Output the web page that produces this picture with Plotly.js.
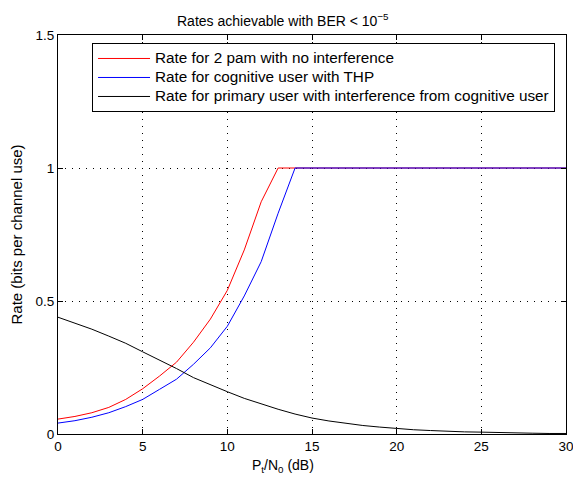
<!DOCTYPE html>
<html>
<head>
<meta charset="utf-8">
<script src="https://cdn.plot.ly/plotly-3.0.1.min.js"></script>
<style>html,body{margin:0;padding:0;background:#fff;}#chart{width:573px;height:483px;}</style>
</head>
<body>
<div id="chart"></div>
<script>
var snrDb = [0,1,2,3,4,5,6,7,8,9,10,11,12,13,14,15,16,17,18,19,20,21,22,23,24,25,26,27,28,29,30];
var rate2pam = [0.056,0.066,0.080,0.100,0.130,0.170,0.218,0.270,0.345,0.432,0.540,0.692,0.873,1,1,1,1,1,1,1,1,1,1,1,1,1,1,1,1,1,1];
var rateCognitive = [0.041,0.050,0.063,0.080,0.103,0.130,0.168,0.206,0.262,0.324,0.405,0.519,0.648,0.830,1,1,1,1,1,1,1,1,1,1,1,1,1,1,1,1,1];
var ratePrimary = [0.439,0.416,0.394,0.368,0.341,0.309,0.278,0.246,0.212,0.184,0.159,0.134,0.113,0.093,0.075,0.060,0.049,0.040,0.032,0.026,0.020,0.016,0.013,0.010,0.008,0.007,0.005,0.004,0.003,0.002,0.002];
var seriesNames = ["Rate for 2 pam with no interference","Rate for cognitive user with THP","Rate for primary user with interference from cognitive user"];
var xTicks = [0,5,10,15,20,25,30];
var yTicks = [0,0.5,1,1.5];
var yTickText = ["0","0.5","1","1.5"];

var font = "Liberation Sans, Arial, Helvetica, sans-serif";
function legendLabel(s) { return '<span style="font-size:15.3px">' + s + '</span>'; }
var traces = [
  {x: snrDb, y: rate2pam, name: legendLabel(seriesNames[0]), mode: "lines", line: {color: "#ff0000", width: 1}},
  {x: snrDb, y: rateCognitive, name: legendLabel(seriesNames[1]), mode: "lines", line: {color: "#0000ff", width: 1}},
  {x: snrDb, y: ratePrimary, name: legendLabel(seriesNames[2]), mode: "lines", line: {color: "#000000", width: 1}}
];
var axisCommon = {
  showline: true, linecolor: "#000", linewidth: 1, mirror: "ticks",
  ticks: "inside", ticklen: 5, tickcolor: "#000", tickwidth: 1,
  showgrid: true, gridcolor: "#000", gridwidth: 1, griddash: "1px,6px",
  zeroline: false, ticklabeloverflow: "allow",
  tickfont: {family: font, size: 13.5, color: "#000"}
};
var layout = {
  width: 573, height: 483,
  margin: {l: 58, r: 7, t: 35, b: 49},
  paper_bgcolor: "#fff", plot_bgcolor: "#fff",
  font: {family: font, size: 14, color: "#000"},
  showlegend: true,
  legend: {x: 0.067, y: 0.98, xanchor: "left", yanchor: "top", bordercolor: "#000", borderwidth: 1,
           bgcolor: "#fff", itemwidth: 52, font: {family: font, size: 12, color: "#000"}, tracegroupgap: 0},
  xaxis: Object.assign({}, axisCommon, {range: [0, 30], tickvals: xTicks, ticktext: xTicks.map(String)}),
  yaxis: Object.assign({}, axisCommon, {range: [0, 1.5], tickvals: yTicks, ticktext: yTickText}),
  annotations: [
    {text: "Rates achievable with BER &lt; 10<sup>−5</sup>", xref: "paper", yref: "paper",
     x: (283 - 58) / 508, y: 1, yshift: 15, xanchor: "center", yanchor: "middle", showarrow: false,
     font: {family: font, size: 14, color: "#000"}},
    {text: "P<sub>t</sub>/N<sub>0</sub> (dB)", xref: "paper", yref: "paper",
     x: (283 - 58) / 508, y: 0, yshift: -32, xanchor: "center", yanchor: "middle", showarrow: false,
     font: {family: font, size: 14, color: "#000"}},
    {text: "Rate (bits per channel use)", xref: "paper", yref: "paper", textangle: -90,
     x: 0, xshift: -42, y: 0.5, xanchor: "center", yanchor: "middle", showarrow: false,
     font: {family: font, size: 15, color: "#000"}}
  ]
};
Plotly.newPlot("chart", traces, layout, {staticPlot: true, displayModeBar: false});
</script>
</body>
</html>
